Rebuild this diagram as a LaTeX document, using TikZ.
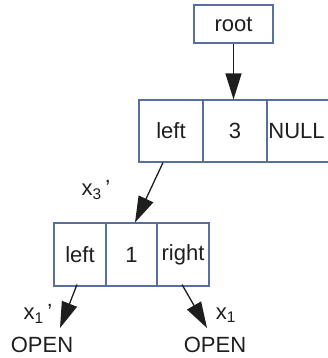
\documentclass[tikz,border=0pt]{standalone}
\usepackage{fontspec}
\setmainfont{Liberation Sans}
\usetikzlibrary{arrows.meta}
\definecolor{boxblue}{RGB}{88,110,160}
\definecolor{ink}{RGB}{30,30,30}
\tikzset{
  cell/.style={draw=boxblue, line width=1.1pt, inner sep=0pt, minimum height=62pt, text=ink, font=\fontsize{22}{26}\selectfont},
  lbl/.style={inner sep=0pt, text=ink, font=\fontsize{22}{26}\selectfont},
  ptr/.style={draw=ink, line width=1.3pt, -{Triangle[length=26pt,width=16pt]}}
}
\begin{document}
\begin{tikzpicture}[x=1pt,y=-1pt]
\useasboundingbox (0,0) rectangle (328,358);
\clip (0,0) rectangle (328,358);
% root
\node[cell, minimum width=79pt, minimum height=38pt] (root) at (233.5,24) {root};
% top row
\node[cell, minimum width=64pt] (t1) at (171,131) {left};
\node[cell, minimum width=64pt] (t2) at (235,131) {3};
\node[cell, minimum width=70pt, anchor=west] (t3) at (267,131) {\hspace*{-12pt}NULL};
% bottom row
\node[cell, minimum width=52pt, minimum height=63pt] (b1) at (80,254.5) {left};
\node[cell, minimum width=51pt, minimum height=63pt] (b2) at (131.5,254.5) {1};
\node[cell, minimum width=52pt, minimum height=63pt] (b3) at (183,254.5) {right};
% arrows
\coordinate (tA) at ([xshift=-8pt]t1.south);
\coordinate (bA) at ([xshift=3.5pt]b2.north);
\draw[ptr] (root.south) -- (root.south |- t2.north);
\draw[ptr] (tA) -- (bA);
\node[lbl] (o1) at (42,345) {OPEN};
\node[lbl] (o2) at (215,345) {OPEN};
\coordinate (e1) at (60,328);
\coordinate (e2) at (207,328);
\draw[ptr] ([shift={(-3pt,2pt)}]b1.south) -- (e1);
\draw[ptr] ([shift={(-1pt,2pt)}]b3.south) -- (e2);
% labels
\node[lbl] (l3) at (96,190) {x\textsubscript{3}\,'};
\node[lbl] (l1a) at (38,314) {x\textsubscript{1}\,'};
\node[lbl] (l1b) at (226,315) {x\textsubscript{1}};
\end{tikzpicture}
\end{document}
